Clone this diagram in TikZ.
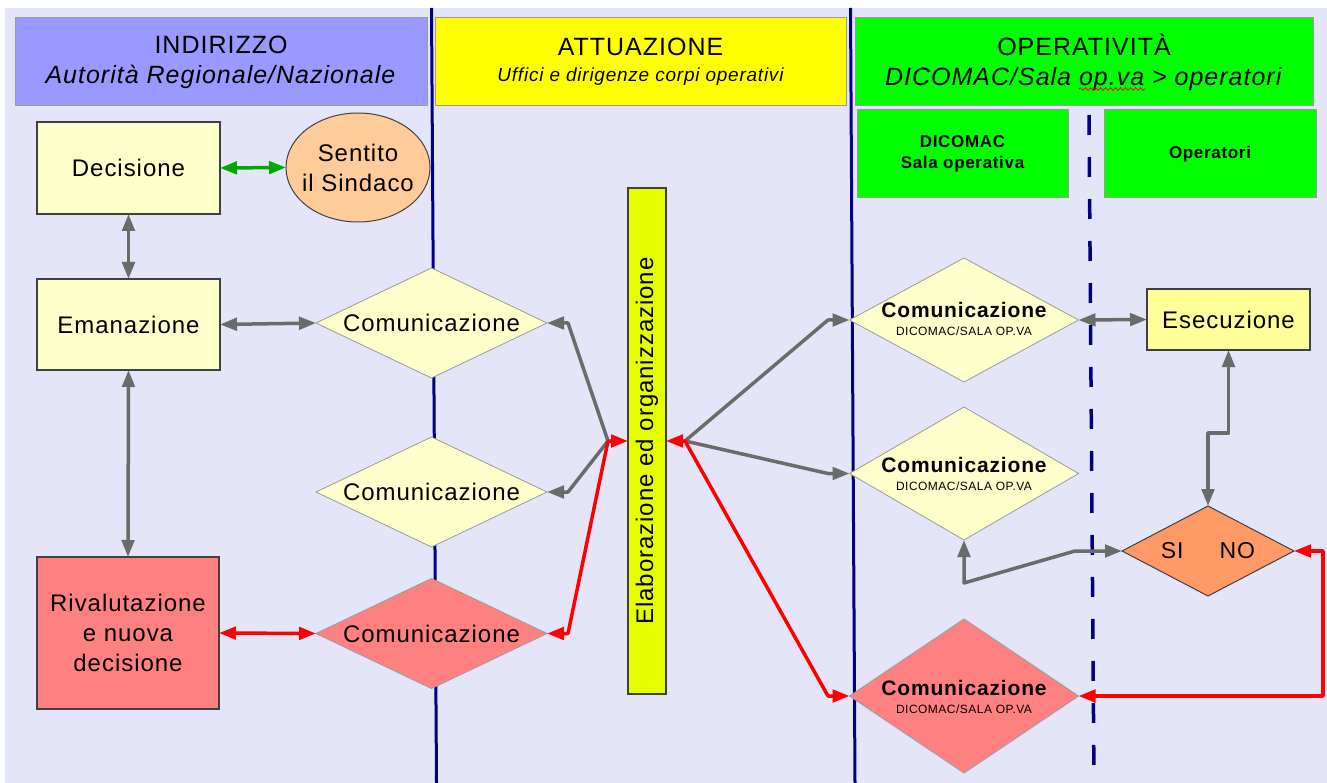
\documentclass[tikz,border=0pt]{standalone}
\usepackage{fontspec}
\setmainfont{Liberation Sans}[LetterSpace=4]
\usetikzlibrary{arrows.meta,shapes.geometric,decorations.pathmorphing}
\definecolor{bgc}{HTML}{E5E5FA}
\definecolor{indc}{HTML}{9999FF}
\definecolor{yelc}{HTML}{FFFF00}
\definecolor{grnc}{HTML}{00FF00}
\definecolor{lyel}{HTML}{FFFFCC}
\definecolor{peach}{HTML}{FFCC99}
\definecolor{pink}{HTML}{FF8080}
\definecolor{barc}{HTML}{E6FF00}
\definecolor{esec}{HTML}{FFFF99}
\definecolor{orng}{HTML}{FF9966}
\definecolor{navyc}{HTML}{000080}
\definecolor{garr}{HTML}{6B6B6B}
\definecolor{garrow}{HTML}{00AA00}
\definecolor{hdrline}{HTML}{9A9A9A}
\definecolor{boxline}{HTML}{404040}
\begin{document}
\begin{tikzpicture}[x=1pt,y=-1pt,
  every node/.style={inner sep=0pt, outer sep=0pt},
  >={Triangle[length=17pt,width=12.5pt]},
  hdr/.style={draw=hdrline, line width=1pt, anchor=north west, align=center},
  box/.style={draw=boxline, line width=1.2pt, anchor=north west, align=center, font=\fontsize{24}{30}\selectfont},
  dia/.style={shape=diamond, draw=hdrline, line width=0.8pt},
  txt/.style={align=center, font=\fontsize{24}{30}\selectfont},
  bigc/.style={anchor=base, font=\fontsize{21}{21}\selectfont\bfseries},
  smallc/.style={anchor=base, font=\fontsize{12}{14}\selectfont},
  gcon/.style={draw=garr, line width=3.5pt, line join=round},
  rcon/.style={draw=red, line width=3.5pt, line join=round},
]
\useasboundingbox (0,0) rectangle (1327,783);
\fill[white] (0,0) rectangle (1327,783);
\fill[bgc] (5,8) rectangle (1327,783);

% lane separators
\draw[navyc, line width=3pt] (431.5,8) -- (436.5,783);
\draw[navyc, line width=3pt] (850.5,8) -- (855,783);
\draw[navyc, line width=3.5pt, dash pattern=on 20pt off 22pt] (1089,115) -- (1094,783);

% headers
\node[hdr, fill=indc, minimum width=412pt, minimum height=88pt, font=\fontsize{25}{30}\selectfont] (hind) at (15,18)
  {INDIRIZZO\\\textit{Autorità Regionale/Nazionale}};
\node[hdr, fill=yelc, minimum width=411pt, minimum height=88pt, font=\fontsize{25}{26}\selectfont] (hatt) at (435,18)
  {ATTUAZIONE\\{\fontsize{19}{22}\selectfont\itshape Uffici e dirigenze corpi operativi}};
\node[hdr, fill=grnc, minimum width=458pt, minimum height=88pt, font=\fontsize{25}{30}\selectfont] (hope) at (855,18)
  {OPERATIVITÀ\\\textit{DICOMAC/Sala op.va > operatori}};
\draw[red, line width=0.8pt, decorate, decoration={snake, amplitude=1.3pt, segment length=5pt}] (1079,89) -- (1145,89);
\node[hdr, fill=grnc, minimum width=211pt, minimum height=88pt, font=\fontsize{17}{21}\selectfont\bfseries] (hdic) at (857,110)
  {DICOMAC\\Sala operativa};
\node[hdr, fill=grnc, minimum width=212pt, minimum height=88pt, font=\fontsize{17}{21}\selectfont\bfseries] (hopr) at (1104,110)
  {Operatori};

% left column
\node[box, fill=lyel, minimum width=183pt, minimum height=92pt] (dec) at (37,122) {Decisione};
\node[ellipse, draw=boxline, line width=1pt, fill=peach, minimum width=144pt, minimum height=109pt] (sent) at (358,167.5) {};
\node[txt] (sentT) at (sent) {Sentito\\il Sindaco};
\node[box, fill=lyel, minimum width=183pt, minimum height=91pt] (ema) at (37,279) {Emanazione};
\node[box, fill=pink, minimum width=182pt, minimum height=152pt] (riv) at (37,557) {Rivalutazione\\e nuova\\decisione};

% middle diamonds
\node[dia, fill=lyel, minimum width=231pt, minimum height=110pt] (c1) at (431.5,323) {};
\node[txt] (c1t) at (c1) {Comunicazione};
\node[dia, fill=lyel, minimum width=231pt, minimum height=110pt] (c2) at (431.5,492) {};
\node[txt] (c2t) at (c2) {Comunicazione};
\node[dia, fill=pink, minimum width=231pt, minimum height=110pt] (c3) at (431.5,633.5) {};
\node[txt] (c3t) at (c3) {Comunicazione};

% bar
\node[draw=boxline, line width=1.2pt, fill=barc, minimum width=38pt, minimum height=506pt] (bar) at (647,441) {};
\node[txt, rotate=90] (barT) at (bar) {Elaborazione ed organizzazione};
\coordinate (hl) at (608,441);
\coordinate (hr) at (685,441);

% right diamonds
\node[dia, fill=lyel, minimum width=229pt, minimum height=124pt] (cr1) at (964,320) {};
\node[bigc] (cr1t) at (964,318) {Comunicazione};
\node[smallc] (cr1s) at (964,336) {DICOMAC/SALA OP.VA};
\node[dia, fill=lyel, minimum width=229pt, minimum height=133pt] (cr2) at (964,473.5) {};
\node[bigc] (cr2t) at (964,472) {Comunicazione};
\node[smallc] (cr2s) at (964,490) {DICOMAC/SALA OP.VA};
\node[dia, fill=pink, minimum width=229pt, minimum height=154pt] (cr3) at (964,696) {};
\node[bigc] (cr3t) at (964,695) {Comunicazione};
\node[smallc] (cr3s) at (964,713) {DICOMAC/SALA OP.VA};

% operators column
\node[box, fill=esec, minimum width=163pt, minimum height=61pt] (ese) at (1147,289) {Esecuzione};
\node[shape=diamond, draw=boxline, line width=1pt, fill=orng, minimum width=172pt, minimum height=90pt] (sino) at (1208,551) {};
\node[txt, font=\fontsize{23}{28}\selectfont] (sinoT) at (sino) {SI\hspace{36pt}NO};

% connectors
\draw[draw=garrow, line width=3.5pt, <->] (dec.east) -- (sent.west);
\draw[gcon, <->] (dec.south) -- (ema.north);
\draw[gcon, <->] (ema.south) -- (riv.north);
\draw[gcon, <->] (ema.east) -- (c1.west);
\draw[rcon, <->] (riv.east) -- (c3.west);

\draw[gcon, ->] (hl) -- (568,323) -- (c1.east);
\draw[gcon, ->] (hl) -- (568,492) -- (c2.east);
\draw[rcon, <->] (c3.east) -- (568,633.5) -- (hl) -- (bar.west);

\draw[gcon, ->] (hr) -- (828,320) -- (cr1.west);
\draw[gcon, ->] (hr) -- (828,473.5) -- (cr2.west);
\draw[rcon, <->] (bar.east) -- (hr) -- (828,696) -- (cr3.west);

\draw[gcon, <->] (cr1.east) -- (ese.west);
\draw[gcon, <->] (ese.south) -- ++(0,83) -| (sino.north);
\draw[gcon, <->] (cr2.south) -- (964,583) -- (1075,551) -- (sino.west);
\draw[rcon, <->] (sino.east) -- (1323,551) |- (cr3.east);
\end{tikzpicture}
\end{document}
